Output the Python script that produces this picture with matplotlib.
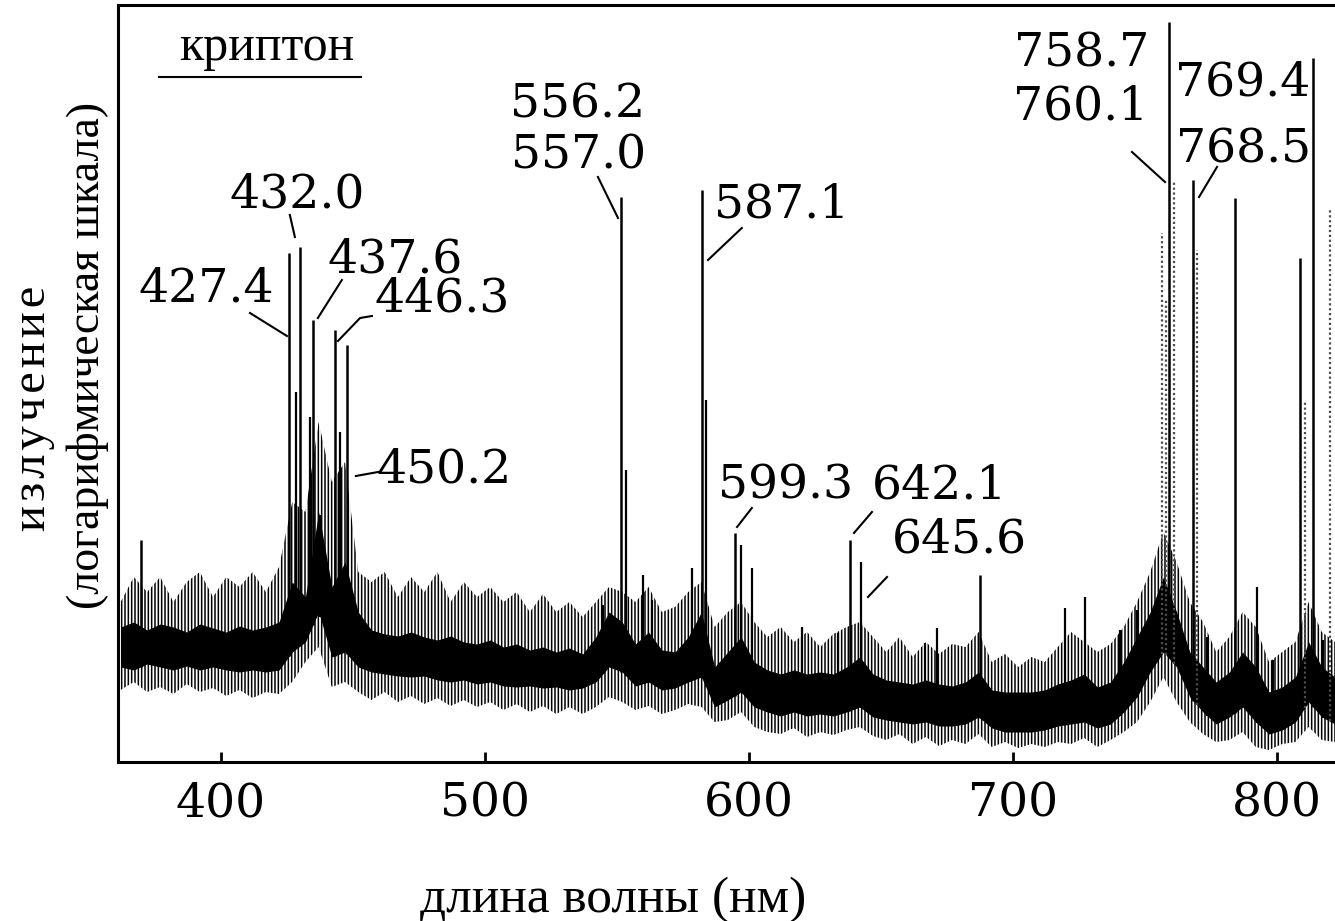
import numpy as np
import matplotlib
matplotlib.use("Agg")
import matplotlib.pyplot as plt

# krypton emission spectrum, intensity in arbitrary (log) units
# noisy baseline sampled every 5 nm
band_nm = np.arange(362, 823, 5)
core_top = [135, 140, 132, 138, 135, 130, 138, 134, 130, 136, 132, 135, 140, 180, 165, 250,
            175, 200, 150, 132, 128, 126, 130, 125, 122, 126, 120, 118, 122, 115, 118, 112,
            115, 110, 114, 108, 125, 150, 140, 118, 130, 112, 110, 125, 150, 95, 110, 125,
            100, 92, 88, 92, 88, 90, 88, 95, 105, 88, 82, 80, 78, 82, 78, 76, 80, 90, 72, 70,
            70, 70, 72, 78, 82, 88, 75, 80, 100, 125, 150, 185, 150, 110, 95, 80, 90, 110, 95,
            70, 75, 85, 120, 95, 85]
core_bottom = [95, 92, 98, 95, 92, 96, 92, 95, 92, 90, 92, 90, 92, 110, 120, 150, 105, 110,
               95, 90, 88, 86, 85, 86, 82, 80, 82, 78, 80, 76, 75, 76, 74, 75, 72, 74, 80, 95,
               90, 76, 80, 72, 74, 80, 85, 55, 62, 70, 55, 50, 46, 50, 46, 48, 46, 50, 55, 45,
               42, 40, 38, 40, 36, 36, 38, 45, 34, 30, 30, 30, 32, 36, 38, 40, 34, 38, 50, 65,
               90, 110, 95, 65, 50, 38, 45, 55, 40, 28, 32, 40, 60, 45, 38]
spike_top = [160, 185, 170, 185, 160, 180, 190, 165, 185, 175, 190, 170, 195, 260, 250, 340,
             280, 300, 190, 180, 190, 165, 185, 170, 190, 160, 180, 165, 175, 160, 170, 150,
             168, 150, 160, 145, 160, 175, 170, 160, 175, 150, 155, 170, 180, 135, 150, 160,
             140, 125, 135, 120, 130, 115, 128, 135, 140, 125, 110, 125, 105, 120, 108, 118,
             115, 130, 100, 108, 95, 105, 100, 115, 130, 120, 110, 118, 135, 160, 190, 230,
             200, 160, 140, 110, 125, 150, 135, 100, 110, 120, 160, 130, 120]
spike_bottom = [72, 80, 70, 75, 68, 78, 70, 74, 66, 72, 64, 70, 68, 80, 100, 115, 75, 80, 70,
                62, 70, 60, 66, 58, 64, 56, 62, 55, 60, 52, 58, 50, 56, 48, 55, 48, 55, 65, 60,
                52, 56, 48, 52, 58, 55, 40, 42, 50, 35, 30, 28, 34, 25, 30, 27, 32, 35, 26, 22,
                28, 18, 25, 16, 22, 18, 28, 15, 20, 14, 18, 15, 20, 18, 24, 15, 22, 30, 40, 60,
                85, 60, 40, 28, 20, 22, 30, 15, 12, 18, 20, 35, 22, 20]

# strong lines
line_nm = [369.7, 425.8, 429.9, 434.8, 443.2, 447.7, 551.7, 582.2, 594.7, 638.3, 687.5,
           759.1, 768.2, 784.1, 808.7, 813.6]
line_top = [222, 509, 515, 442, 432, 417, 565, 572, 229, 222, 187, 740, 582, 564, 504, 704]

# weaker lines
weak_nm = [428.4, 433.9, 437.5, 445.1, 544.7, 553.4, 559.8, 563.3, 578.4, 583.7, 597.0,
           601.1, 620.1, 633.7, 642.4, 666.7, 671.2, 719.7, 727.3, 740.5, 747.0, 773.5,
           792.4, 798.5, 817.4]
weak_top = [370, 345, 247, 330, 157, 292, 187, 162, 194, 362, 217, 194, 135, 129, 200, 119,
            134, 154, 165, 132, 152, 125, 175, 102, 122]

# faint dotted lines
faint_nm = [756.4, 758.0, 761.0, 769.7, 810.6, 820.0]
faint_top = [529, 462, 582, 512, 362, 552]

xticks = [400, 500, 600, 700, 800]

plt.rcParams['hatch.linewidth'] = 1.1
fig = plt.figure(figsize=(13.35, 9.21), dpi=100)
ax = fig.add_axes([118 / 1335, 159 / 921, 1 - 118 / 1335, 757 / 921])

ax.fill_between(band_nm, spike_bottom, spike_top, facecolor='white', edgecolor='black',
                hatch='|||||', linewidth=0)
ax.fill_between(band_nm, core_bottom, core_top, color='black', linewidth=0)
ax.vlines(line_nm, np.interp(line_nm, band_nm, core_bottom), line_top, color='black', lw=1.8)
ax.vlines(weak_nm, np.interp(weak_nm, band_nm, core_bottom), weak_top, color='black', lw=1.6)
ax.vlines(faint_nm, np.interp(faint_nm, band_nm, core_bottom), faint_top, color='0.3',
          lw=1.6, linestyles=(0, (1, 1.2)))

ax.set_xlim(361.0, 822.0)
ax.set_ylim(0, 757)
ax.set_xticks(xticks)
ax.set_yticks([])
ax.tick_params(axis='x', direction='in', length=7, width=2, pad=14, labelsize=34)
for lab in ax.get_xticklabels():
    lab.set_fontfamily('DejaVu Serif')
for side in ['left', 'bottom', 'top']:
    ax.spines[side].set_linewidth(2.2)
ax.spines['right'].set_visible(False)

num = dict(fontfamily='DejaVu Serif', fontsize=34, ha='center', va='center')
labels = [
    ("432.0", 428.8, 567), ("427.4", 394.3, 473), ("437.6", 465.9, 502),
    ("446.3", 483.7, 463), ("450.2", 484.5, 292), ("556.2", 535.2, 657),
    ("557.0", 535.6, 606), ("587.1", 612.5, 557), ("599.3", 614.0, 276),
    ("642.1", 672.3, 276), ("645.6", 679.9, 222), ("758.7", 726.1, 708),
    ("760.1", 725.8, 655), ("769.4", 787.1, 679), ("768.5", 787.5, 612),
]
for txt, x, y in labels:
    ax.text(x, y, txt, **num)

leaders = [
    ([411.0, 425.0], [449, 426]), ([426.1, 428.0], [547, 525]), ([445.8, 436.7], [482, 444]),
    ([457.2, 452.7, 444.3], [446, 444, 421]), ([459.5, 451.1], [290, 286]),
    ([542.8, 550.4], [585, 544]), ([597.3, 584.5], [534, 502]), ([601.1, 595.5], [254, 235]),
    ([646.6, 639.8], [250, 229]), ([652.3, 645.1], [185, 165]), ([745.1, 757.6], [610, 580]),
    ([777.3, 770.5], [595, 565]),
]
for xs, ys in leaders:
    ax.plot(xs, ys, color='black', lw=1.5)

ax.text(417.5, 702, "криптон", fontfamily='Liberation Serif', fontsize=36,
        ha='center', va='baseline')
ax.plot([376.5, 453.0], [685, 685], color='black', lw=1.5)

serif = ['Liberation Serif', 'DejaVu Serif']
fig.text(33 / 1335, 1 - 408 / 921, "\u200a".join("излучение"), family=serif, fontsize=35,
         rotation=90, ha='center', va='center')
fig.text(88 / 1335, 1 - 355 / 921, "(логарифмическая шкала)", family=serif,
         fontsize=33, rotation=90, ha='center', va='center')
fig.text(613 / 1335, 1 - 900 / 921, "длина волны (нм)", family=serif,
         fontsize=37, ha='center', va='center')

fig.savefig("out.png", dpi=100)
